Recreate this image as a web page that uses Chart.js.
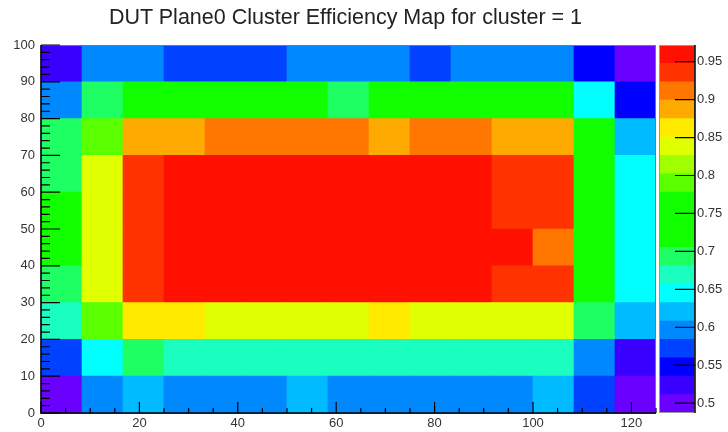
<!DOCTYPE html>
<html>
<head>
<meta charset="utf-8">
<script src="https://cdn.jsdelivr.net/npm/chart.js@4.4.1/dist/chart.umd.min.js"></script>
<style>
  body { margin: 0; background: #fff; }
  #wrap { position: relative; width: 728px; height: 432px; }
  #wrap canvas { position: absolute; left: 0; top: 0; }
  #title {
    position: absolute; left: 0; width: 691px; top: 6px; line-height: 22px;
    text-align: center; white-space: nowrap;
    font-family: "Liberation Sans", Arial, sans-serif; font-size: 21.5px; color: #222;
  }
</style>
</head>
<body>
<div id="wrap">
  <canvas id="map" width="728" height="432"></canvas>
  <canvas id="zbar" width="728" height="432"></canvas>
  <div id="title">DUT Plane0 Cluster Efficiency Map for cluster = 1</div>
</div>
<script>
// axis ranges and tick values
const xRange = [0, 125];
const yRange = [0, 100];
const zRange = [0.487, 0.972];
const xTicks = [0, 20, 40, 60, 80, 100, 120];
const yTicks = [0, 10, 20, 30, 40, 50, 60, 70, 80, 90, 100];
const zTicks = [0.5, 0.55, 0.6, 0.65, 0.7, 0.75, 0.8, 0.85, 0.9, 0.95];
const nContours = 20;

// efficiency per x bin (15 bins), one array per y slice
const effY0  = [0.500, 0.596, 0.620, 0.590, 0.593, 0.598, 0.625, 0.594, 0.597, 0.595, 0.599, 0.592, 0.618, 0.572, 0.498];
const effY10 = [0.575, 0.645, 0.690, 0.668, 0.672, 0.670, 0.666, 0.671, 0.669, 0.673, 0.668, 0.670, 0.665, 0.594, 0.523];
const effY20 = [0.672, 0.790, 0.862, 0.865, 0.840, 0.842, 0.838, 0.845, 0.860, 0.843, 0.839, 0.846, 0.840, 0.692, 0.620];
const effY30 = [0.690, 0.842, 0.935, 0.958, 0.962, 0.960, 0.957, 0.963, 0.959, 0.961, 0.956, 0.938, 0.935, 0.740, 0.648];
const effY40 = [0.742, 0.840, 0.937, 0.960, 0.965, 0.962, 0.958, 0.960, 0.963, 0.961, 0.957, 0.955, 0.912, 0.745, 0.645];
const effY50 = [0.738, 0.845, 0.935, 0.961, 0.963, 0.966, 0.960, 0.962, 0.964, 0.959, 0.958, 0.940, 0.936, 0.748, 0.646];
const effY60 = [0.690, 0.843, 0.933, 0.960, 0.964, 0.960, 0.965, 0.962, 0.960, 0.958, 0.957, 0.938, 0.934, 0.742, 0.643];
const effY70 = [0.695, 0.790, 0.888, 0.886, 0.910, 0.912, 0.908, 0.914, 0.890, 0.910, 0.909, 0.885, 0.888, 0.740, 0.620];
const effY80 = [0.598, 0.690, 0.745, 0.738, 0.750, 0.742, 0.740, 0.693, 0.744, 0.748, 0.741, 0.739, 0.746, 0.646, 0.548];
const effY90 = [0.522, 0.596, 0.598, 0.572, 0.570, 0.575, 0.594, 0.597, 0.592, 0.573, 0.595, 0.598, 0.593, 0.548, 0.497];
const rows = [effY0, effY10, effY20, effY30, effY40, effY50, effY60, effY70, effY80, effY90];

// rainbow palette, one colour per contour (low -> high)
const palette = [
  "#6a00ff", "#3a00ff", "#0000ff", "#0042ff", "#0088ff",
  "#00bbff", "#00ffff", "#1affc0", "#1eff64", "#12ff00",
  "#12ff00", "#12ff00", "#5aff00", "#a0ff00", "#e0ff00",
  "#ffea00", "#ffaa00", "#ff7700", "#ff3300", "#ff1000"
];

function zColor(v) {
  let k = Math.floor((v - zRange[0]) / (zRange[1] - zRange[0]) * nContours);
  k = Math.max(0, Math.min(nContours - 1, k));
  return palette[k];
}

const tickFont = { family: "'Liberation Sans', Arial, sans-serif", size: 13 };
const tickColor = "#333";
const noGrid = { display: false, drawTicks: false, tickLength: 0 };
const fmt = v => String(+Number(v).toFixed(2));

// --- the 2D map: one floating-bar dataset per y slice ---
const nX = effY0.length;
const binIndex = Array.from({ length: nX }, (_, i) => i);
const dy = (yRange[1] - yRange[0]) / rows.length;

const mapSets = rows.map((row, r) => ({
  xAxisID: "xb",
  yAxisID: "y",
  data: row.map(() => [yRange[0] + r * dy, yRange[0] + (r + 1) * dy]),
  backgroundColor: row.map(zColor),
  borderWidth: 0
}));

// frame, axis lines and inward ticks (major + minor)
const mapAxes = {
  id: "mapAxes",
  afterDatasetsDraw(chart) {
    const { ctx, chartArea: a, scales } = chart;
    const sx = scales.x, sy = scales.y;
    ctx.save();
    ctx.strokeStyle = "#777";
    ctx.lineWidth = 1;
    ctx.strokeRect(a.left, a.top + 0.5, a.right - a.left - 0.5, a.bottom - a.top);
    ctx.strokeStyle = "#000";
    ctx.lineWidth = 1.5;
    ctx.beginPath();
    ctx.moveTo(a.left, a.top); ctx.lineTo(a.left, a.bottom); ctx.lineTo(a.right, a.bottom);
    ctx.stroke();
    ctx.lineWidth = 1.2;
    ctx.beginPath();
    for (let v = yRange[0]; v <= yRange[1] + 1e-9; v += 2) {
      const p = sy.getPixelForValue(v);
      const len = yTicks.includes(v) ? 19 : 9;
      ctx.moveTo(a.left, p); ctx.lineTo(a.left + len, p);
    }
    for (let v = xRange[0]; v <= xRange[1] + 1e-9; v += 5) {
      const p = sx.getPixelForValue(v);
      const len = xTicks.includes(v) ? 11 : 5;
      ctx.moveTo(p, a.bottom); ctx.lineTo(p, a.bottom - len);
    }
    ctx.stroke();
    ctx.restore();
  }
};

new Chart(document.getElementById("map"), {
  type: "bar",
  data: { labels: binIndex, datasets: mapSets },
  options: {
    responsive: false,
    animation: false,
    layout: { padding: { left: 0, top: 45, right: 72, bottom: 0 } },
    plugins: { legend: { display: false }, tooltip: { enabled: false } },
    datasets: { bar: { grouped: false, barPercentage: 1, categoryPercentage: 1 } },
    scales: {
      xb: { type: "category", display: false, offset: true },
      x: {
        type: "linear", position: "bottom", min: xRange[0], max: xRange[1], offset: false,
        grid: noGrid, border: { display: false },
        ticks: { stepSize: 20, includeBounds: false, padding: 3, maxRotation: 0,
                 autoSkip: false, font: tickFont, color: tickColor },
        afterFit: s => { s.height = 19; }
      },
      y: {
        type: "linear", min: yRange[0], max: yRange[1],
        grid: noGrid, border: { display: false },
        ticks: { stepSize: 10, includeBounds: false, padding: 6,
                 font: tickFont, color: tickColor },
        afterFit: s => { s.width = 41; }
      }
    }
  },
  plugins: [mapAxes]
});

// --- colour scale on the right ---
const bandEdges = Array.from({ length: nContours + 1 },
  (_, k) => zRange[0] + k * (zRange[1] - zRange[0]) / nContours);

const zSets = palette.map((c, k) => ({
  data: [[bandEdges[k], bandEdges[k + 1]]],
  backgroundColor: c,
  borderWidth: 0
}));

const zAxis = {
  id: "zAxis",
  afterDatasetsDraw(chart) {
    const { ctx, chartArea: a, scales } = chart;
    ctx.save();
    ctx.strokeStyle = "#999";
    ctx.lineWidth = 1;
    ctx.strokeRect(a.left + 0.5, a.top + 0.5, a.right - a.left - 1, a.bottom - a.top - 1);
    ctx.strokeStyle = "#000";
    ctx.lineWidth = 1.5;
    ctx.beginPath();
    ctx.moveTo(a.right, a.top); ctx.lineTo(a.right, a.bottom);
    ctx.stroke();
    ctx.lineWidth = 1.2;
    ctx.beginPath();
    zTicks.forEach(v => {
      const p = scales.y.getPixelForValue(v);
      ctx.moveTo(a.right, p); ctx.lineTo(a.right - 20, p);
    });
    ctx.stroke();
    ctx.restore();
  }
};

new Chart(document.getElementById("zbar"), {
  type: "bar",
  data: { labels: ["eff"], datasets: zSets },
  options: {
    responsive: false,
    animation: false,
    layout: { padding: { left: 659, top: 45, right: 0, bottom: 19 } },
    plugins: { legend: { display: false }, tooltip: { enabled: false } },
    datasets: { bar: { grouped: false, barPercentage: 1, categoryPercentage: 1 } },
    scales: {
      x: { type: "category", display: false, offset: true },
      y: {
        type: "linear", position: "right", min: zRange[0], max: zRange[1],
        grid: noGrid, border: { display: false },
        ticks: { stepSize: 0.05, includeBounds: false, padding: 2,
                 font: tickFont, color: tickColor, callback: fmt },
        afterFit: s => { s.width = 33; }
      }
    }
  },
  plugins: [zAxis]
});
</script>
</body>
</html>
